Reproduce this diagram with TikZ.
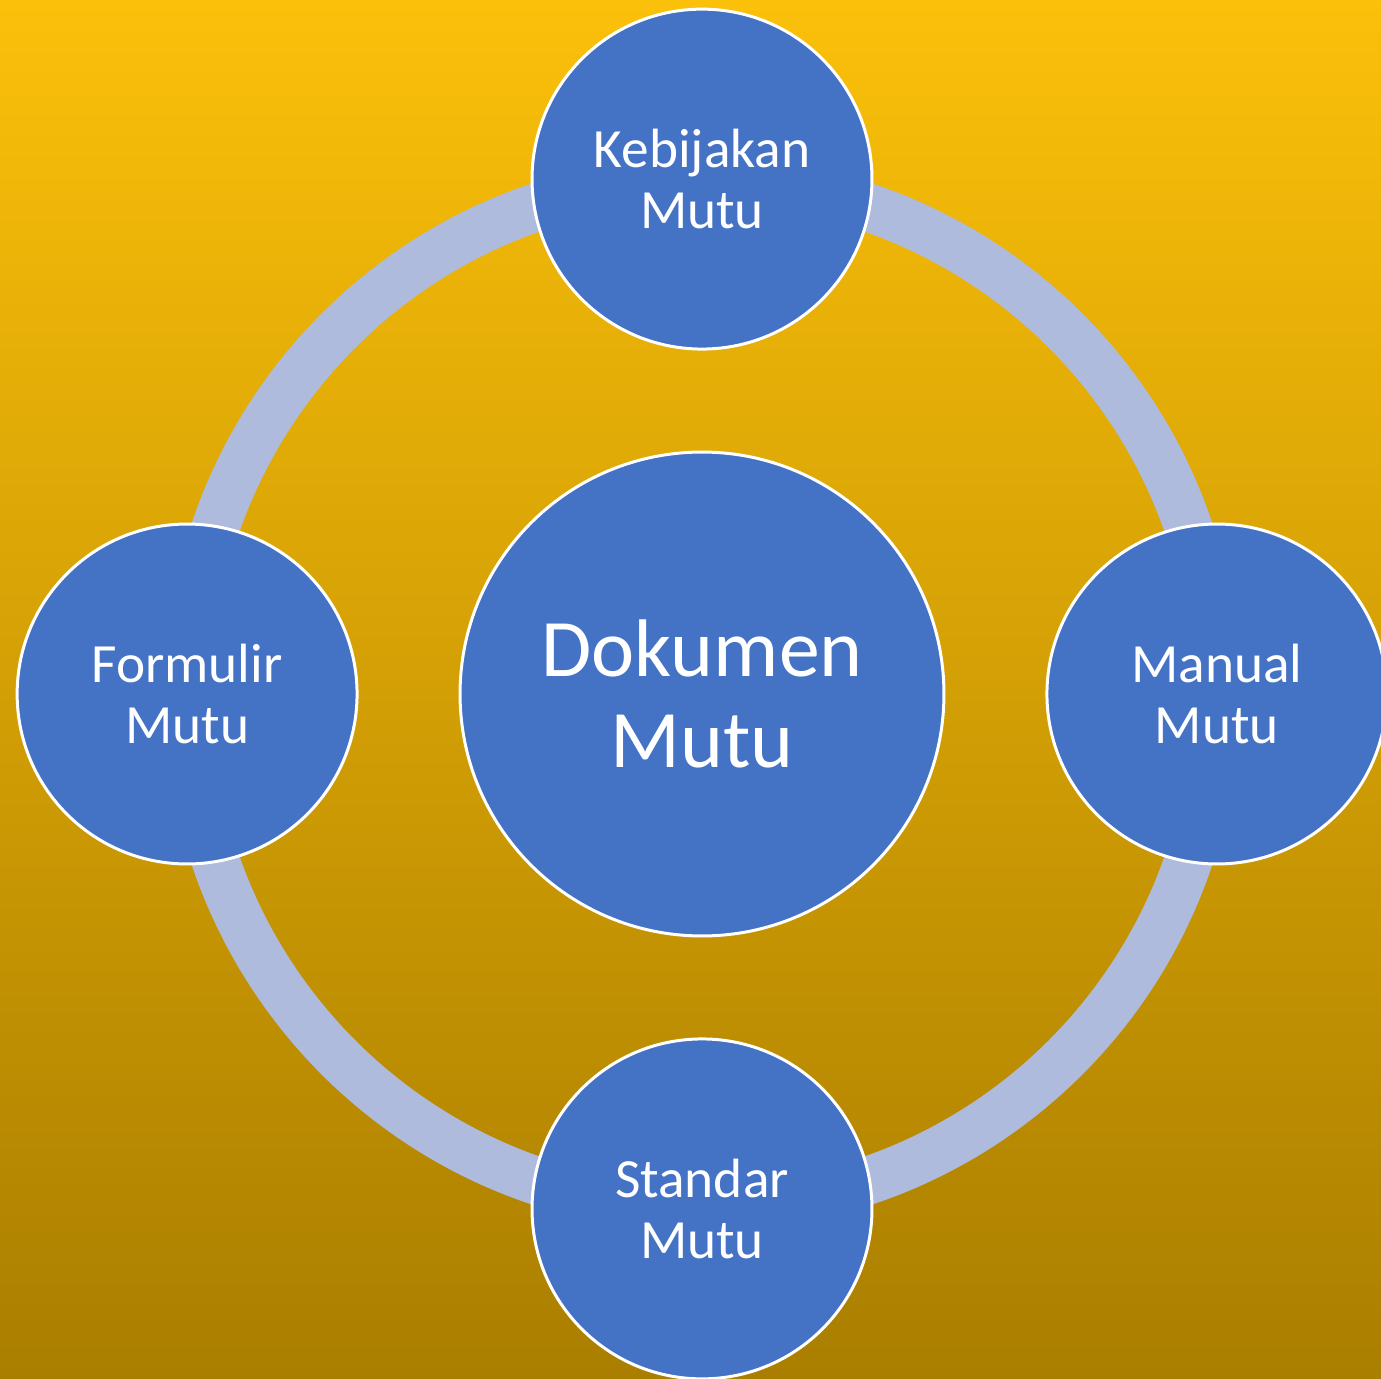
\documentclass[tikz,border=0pt]{standalone}
\usepackage{fontspec}
\setmainfont{Carlito}
\usetikzlibrary{positioning}
\definecolor{bgtop}{RGB}{251,192,10}
\definecolor{bgbot}{RGB}{170,126,0}
\definecolor{blok}{RGB}{68,114,196}
\definecolor{cincin}{RGB}{175,187,221}
\tikzset{
	utama/.style={circle,fill=blok,draw=white,line width=1.7pt,text=white,align=center,minimum size=9.68cm,inner sep=0pt,font=\fontsize{46.5}{52}\selectfont},
	bagian/.style={circle,fill=blok,draw=white,line width=1.7pt,text=white,align=center,minimum size=6.8cm,inner sep=0pt,font=\fontsize{31.5}{35}\selectfont}
}
\begin{document}
\begin{tikzpicture}[x=0.02cm,y=-0.02cm,node distance=10.3cm,on grid]
\shade[top color=bgtop,bottom color=bgbot] (0,0) rectangle (1381,1378);
\useasboundingbox (0,0) rectangle (1381,1378);

\node[utama] (dok) at (702,694) {Dokumen\\Mutu};
\draw[cincin,line width=0.96cm] (dok.center) circle (514);

\node[bagian] (kebijakan) [above=of dok] {Kebijakan\\Mutu};
\node[bagian] (manual) [right=of dok] {Manual\\Mutu};
\node[bagian] (standar) [below=of dok] {Standar\\Mutu};
\node[bagian] (formulir) [left=of dok] {Formulir\\Mutu};

\end{tikzpicture}
\end{document}
